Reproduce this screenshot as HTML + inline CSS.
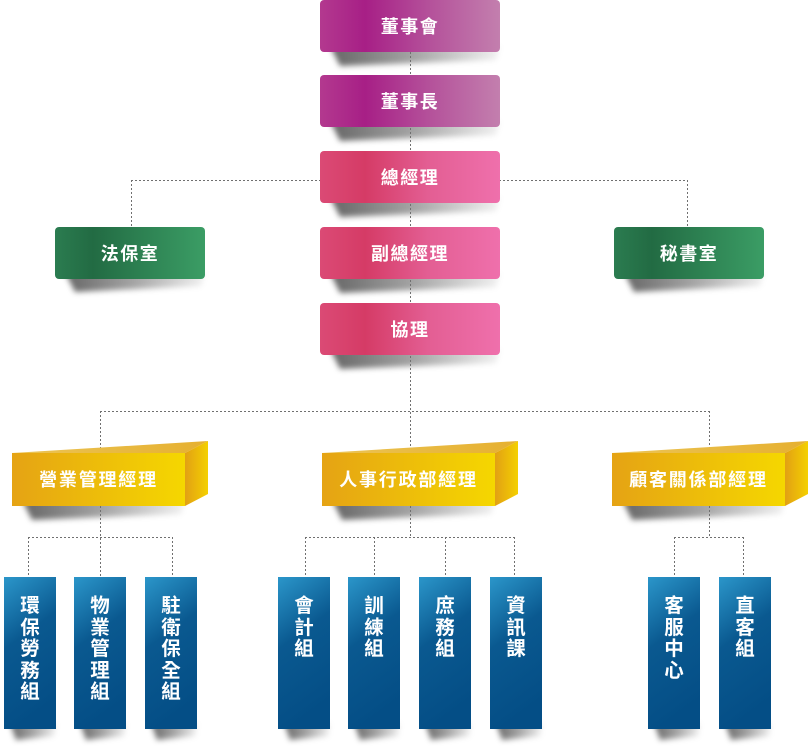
<!DOCTYPE html>
<html><head><meta charset="utf-8">
<style>
html,body{margin:0;padding:0;background:#fff;}
body{width:808px;height:748px;position:relative;overflow:hidden;font-family:"Liberation Sans","Noto Sans CJK TC","Noto Sans CJK SC",sans-serif;}
svg{position:absolute;left:0;top:0;}
.t{position:absolute;color:#fff;font-weight:bold;text-align:center;white-space:nowrap;font-size:18px;letter-spacing:1.5px;}
.v{position:absolute;color:#fff;font-weight:bold;text-align:center;font-size:19.5px;line-height:21.5px;width:52px;top:596px;}
</style></head><body>
<svg width="808" height="748" viewBox="0 0 808 748">
<defs>
<linearGradient id="gm" x1="0" y1="0" x2="1" y2="0">
<stop offset="0" stop-color="#b3398f"/><stop offset="0.25" stop-color="#a71f86"/><stop offset="0.6" stop-color="#b4509a"/><stop offset="1" stop-color="#c37fae"/></linearGradient>
<linearGradient id="gp" x1="0" y1="0" x2="1" y2="0">
<stop offset="0" stop-color="#db4a75"/><stop offset="0.25" stop-color="#d53b66"/><stop offset="0.6" stop-color="#e35e93"/><stop offset="1" stop-color="#ef70ac"/></linearGradient>
<linearGradient id="gg" x1="0" y1="0" x2="1" y2="0">
<stop offset="0" stop-color="#2b7c50"/><stop offset="0.25" stop-color="#226b43"/><stop offset="1" stop-color="#3b9d65"/></linearGradient>
<linearGradient id="gyf" x1="0" y1="0" x2="1" y2="0">
<stop offset="0" stop-color="#e5a314"/><stop offset="1" stop-color="#f5d700"/></linearGradient>
<linearGradient id="gyt" x1="0" y1="0" x2="1" y2="0">
<stop offset="0" stop-color="#ebc455"/><stop offset="1" stop-color="#e6b030"/></linearGradient>
<linearGradient id="gys" x1="0" y1="0" x2="1" y2="0">
<stop offset="0" stop-color="#e2a014"/><stop offset="1" stop-color="#f4d000"/></linearGradient>
<linearGradient id="gb" x1="0" y1="0" x2="0.25" y2="1">
<stop offset="0" stop-color="#2b96ca"/><stop offset="0.45" stop-color="#0a5990"/><stop offset="1" stop-color="#044e86"/></linearGradient>
<linearGradient id="gs" x1="0" y1="0" x2="1" y2="0">
<stop offset="0" stop-color="#000" stop-opacity="0.6"/><stop offset="0.5" stop-color="#000" stop-opacity="0.35"/><stop offset="1" stop-color="#000" stop-opacity="0.05"/></linearGradient>
<filter id="bl" x="-20%" y="-100%" width="140%" height="300%"><feGaussianBlur stdDeviation="3"/></filter>
</defs>

<g filter="url(#bl)" fill="url(#gs)">
<polygon points="330,46 500,46 496,60 340,66"/>
<polygon points="330,121 500,121 496,135 340,141"/>
<polygon points="330,197 500,197 496,211 340,217"/>
<polygon points="330,273 500,273 496,287 340,293"/>
<polygon points="330,349 500,349 496,363 340,369"/>
<polygon points="65,272 205,272 201,286 75,292"/>
<polygon points="624,272 764,272 760,286 634,292"/>
<polygon points="22,500 185,500 181,514 32,520"/>
<polygon points="332,500 495,500 491,514 342,520"/>
<polygon points="622,500 785,500 781,514 632,520"/>
<polygon points="10,723 56,723 54,736 16,740"/>
<polygon points="80,723 126,723 124,736 86,740"/>
<polygon points="151,723 197,723 195,736 157,740"/>
<polygon points="284,723 330,723 328,736 290,740"/>
<polygon points="354,723 400,723 398,736 360,740"/>
<polygon points="425,723 471,723 469,736 431,740"/>
<polygon points="496,723 542,723 540,736 502,740"/>
<polygon points="654,723 700,723 698,736 660,740"/>
<polygon points="725,723 771,723 769,736 731,740"/>
</g>

<g stroke="#707070" stroke-width="1" stroke-dasharray="2 2" fill="none">
<line x1="410.5" y1="0" x2="410.5" y2="453"/>
<line x1="131" y1="180.5" x2="688" y2="180.5"/>
<line x1="131.5" y1="180" x2="131.5" y2="227"/>
<line x1="687.5" y1="180" x2="687.5" y2="227"/>
<line x1="100" y1="411.5" x2="710" y2="411.5"/>
<line x1="100.5" y1="411" x2="100.5" y2="453"/>
<line x1="709.5" y1="411" x2="709.5" y2="453"/>
<line x1="100.5" y1="506" x2="100.5" y2="577"/>
<line x1="410.5" y1="506" x2="410.5" y2="537"/>
<line x1="709.5" y1="506" x2="709.5" y2="537"/>
<line x1="28" y1="537.5" x2="173" y2="537.5"/>
<line x1="305" y1="537.5" x2="515" y2="537.5"/>
<line x1="674" y1="537.5" x2="744" y2="537.5"/>
<line x1="28.5" y1="537" x2="28.5" y2="577"/>
<line x1="172.5" y1="537" x2="172.5" y2="577"/>
<line x1="305.5" y1="537" x2="305.5" y2="577"/>
<line x1="374.5" y1="537" x2="374.5" y2="577"/>
<line x1="445.5" y1="537" x2="445.5" y2="577"/>
<line x1="514.5" y1="537" x2="514.5" y2="577"/>
<line x1="674.5" y1="537" x2="674.5" y2="577"/>
<line x1="743.5" y1="537" x2="743.5" y2="577"/>
</g>

<rect x="320" y="0" width="180" height="52" rx="4" fill="url(#gm)"/>
<rect x="320" y="75" width="180" height="52" rx="4" fill="url(#gm)"/>
<rect x="320" y="151" width="180" height="52" rx="4" fill="url(#gp)"/>
<rect x="320" y="227" width="180" height="52" rx="4" fill="url(#gp)"/>
<rect x="320" y="303" width="180" height="52" rx="4" fill="url(#gp)"/>
<rect x="55" y="227" width="150" height="52" rx="4" fill="url(#gg)"/>
<rect x="614" y="227" width="150" height="52" rx="4" fill="url(#gg)"/>

<g>
<polygon points="12,453 208,441 185,453" fill="url(#gyt)"/>
<polygon points="185,453 208,441 208,494 185,506" fill="url(#gys)"/>
<rect x="12" y="453" width="173" height="53" fill="url(#gyf)"/>
</g>
<g>
<polygon points="322,453 518,441 495,453" fill="url(#gyt)"/>
<polygon points="495,453 518,441 518,494 495,506" fill="url(#gys)"/>
<rect x="322" y="453" width="173" height="53" fill="url(#gyf)"/>
</g>
<g>
<polygon points="612,453 808,441 785,453" fill="url(#gyt)"/>
<polygon points="785,453 808,441 808,494 785,506" fill="url(#gys)"/>
<rect x="612" y="453" width="173" height="53" fill="url(#gyf)"/>
</g>

<g fill="url(#gb)">
<rect x="4" y="577" width="52" height="152"/>
<rect x="74" y="577" width="52" height="152"/>
<rect x="145" y="577" width="52" height="152"/>
<rect x="278" y="577" width="52" height="152"/>
<rect x="348" y="577" width="52" height="152"/>
<rect x="419" y="577" width="52" height="152"/>
<rect x="490" y="577" width="52" height="152"/>
<rect x="648" y="577" width="52" height="152"/>
<rect x="719" y="577" width="52" height="152"/>
</g>
</svg>

<div class="t" style="left:320px;top:1px;width:180px;line-height:52px;">董事會</div>
<div class="t" style="left:320px;top:76px;width:180px;line-height:52px;">董事長</div>
<div class="t" style="left:320px;top:152px;width:180px;line-height:52px;">總經理</div>
<div class="t" style="left:320px;top:228px;width:180px;line-height:52px;">副總經理</div>
<div class="t" style="left:320px;top:304px;width:180px;line-height:52px;">協理</div>
<div class="t" style="left:55px;top:228px;width:150px;line-height:52px;">法保室</div>
<div class="t" style="left:614px;top:228px;width:150px;line-height:52px;">秘書室</div>

<div class="t" style="left:12px;top:454px;width:173px;line-height:53px;letter-spacing:1.8px;">營業管理經理</div>
<div class="t" style="left:322px;top:454px;width:173px;line-height:53px;letter-spacing:1.8px;">人事行政部經理</div>
<div class="t" style="left:612px;top:454px;width:173px;line-height:53px;letter-spacing:1.8px;">顧客關係部經理</div>

<div class="v" style="left:4px;">環<br>保<br>勞<br>務<br>組</div>
<div class="v" style="left:74px;">物<br>業<br>管<br>理<br>組</div>
<div class="v" style="left:145px;">駐<br>衛<br>保<br>全<br>組</div>
<div class="v" style="left:278px;">會<br>計<br>組</div>
<div class="v" style="left:348px;">訓<br>練<br>組</div>
<div class="v" style="left:419px;">庶<br>務<br>組</div>
<div class="v" style="left:490px;">資<br>訊<br>課</div>
<div class="v" style="left:648px;">客<br>服<br>中<br>心</div>
<div class="v" style="left:719px;">直<br>客<br>組</div>
</body></html>
